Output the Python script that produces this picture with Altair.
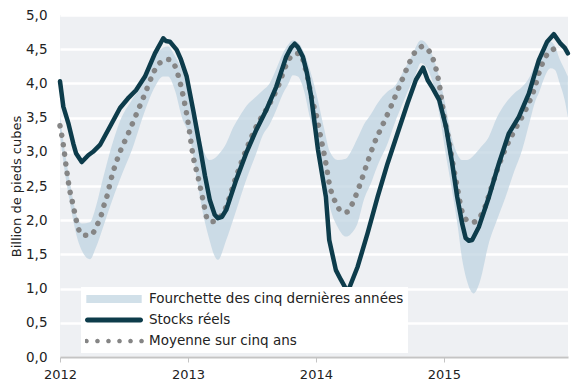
import altair as alt
import pandas as pd

# ---- data (decimal years, billions of cubic feet) ----
stock_t = [2012.0, 2012.026, 2012.065, 2012.104, 2012.125, 2012.170, 2012.221, 2012.258, 2012.3125,
           2012.391, 2012.469, 2012.531, 2012.594, 2012.664, 2012.742, 2012.807, 2012.828, 2012.859,
           2012.912, 2012.945, 2012.990, 2013.041, 2013.094, 2013.133, 2013.170, 2013.209, 2013.234,
           2013.266, 2013.299, 2013.377, 2013.455, 2013.534, 2013.612, 2013.690, 2013.768, 2013.805,
           2013.834, 2013.859, 2013.898, 2013.930, 2013.963, 2014.016, 2014.078, 2014.104, 2014.156,
           2014.195, 2014.248, 2014.326, 2014.404, 2014.482, 2014.560, 2014.638, 2014.716, 2014.781,
           2014.838, 2014.873, 2014.912, 2014.963, 2015.016, 2015.065, 2015.104, 2015.143, 2015.170,
           2015.195, 2015.221, 2015.273, 2015.352, 2015.430, 2015.508, 2015.586, 2015.664, 2015.742,
           2015.807, 2015.859, 2015.912, 2015.945, 2015.969]
stock_v = [4.03, 3.66, 3.42, 3.12, 2.98, 2.85, 2.95, 3.00, 3.10,
           3.37, 3.64, 3.78, 3.90, 4.10, 4.44, 4.66, 4.62, 4.61,
           4.49, 4.35, 4.10, 3.61, 3.07, 2.65, 2.30, 2.08, 2.03,
           2.05, 2.15, 2.59, 2.98, 3.32, 3.61, 3.95, 4.39, 4.52,
           4.58, 4.53, 4.39, 4.15, 3.81, 3.03, 2.34, 1.71, 1.27,
           1.13, 0.95, 1.32, 1.81, 2.34, 2.83, 3.27, 3.71, 4.05,
           4.23, 4.05, 3.93, 3.76, 3.37, 2.83, 2.34, 1.95, 1.74,
           1.70, 1.71, 1.90, 2.34, 2.83, 3.27, 3.51, 3.85, 4.34,
           4.61, 4.72, 4.58, 4.52, 4.44]

avg_t = [2012.0, 2012.026, 2012.052, 2012.078, 2012.099, 2012.117, 2012.135, 2012.164, 2012.203,
         2012.240, 2012.287, 2012.320, 2012.344, 2012.370, 2012.391, 2012.455, 2012.534, 2012.599,
         2012.664, 2012.729, 2012.766, 2012.807, 2012.844, 2012.873, 2012.906, 2012.9375, 2012.974,
         2013.002, 2013.041, 2013.078, 2013.117, 2013.156, 2013.195, 2013.242, 2013.287, 2013.377,
         2013.455, 2013.534, 2013.625, 2013.703, 2013.768, 2013.820, 2013.873, 2013.924, 2013.977,
         2014.0, 2014.039, 2014.078, 2014.104, 2014.156, 2014.209, 2014.242, 2014.273, 2014.338,
         2014.391, 2014.455, 2014.521, 2014.586, 2014.651, 2014.716, 2014.768, 2014.797, 2014.834,
         2014.885, 2014.9375, 2014.963, 2015.002, 2015.041, 2015.065, 2015.104, 2015.143, 2015.195,
         2015.227, 2015.260, 2015.3125, 2015.365, 2015.416, 2015.482, 2015.560, 2015.638, 2015.703,
         2015.755, 2015.795, 2015.857]
avg_v = [3.38, 3.10, 2.73, 2.42, 2.25, 2.09, 1.94, 1.80, 1.78,
         1.78, 1.92, 2.06, 2.22, 2.37, 2.54, 2.93, 3.27, 3.56,
         3.85, 4.15, 4.28, 4.32, 4.35, 4.33, 4.22, 4.02, 3.71,
         3.42, 2.93, 2.64, 2.30, 2.00, 1.98, 2.03, 2.15, 2.64,
         3.03, 3.37, 3.66, 3.95, 4.27, 4.42, 4.44, 4.17, 3.71,
         3.56, 3.20, 2.83, 2.54, 2.25, 2.12, 2.12, 2.20, 2.49,
         2.78, 3.12, 3.39, 3.66, 3.95, 4.24, 4.44, 4.50, 4.54,
         4.47, 4.22, 4.00, 3.51, 3.15, 2.88, 2.49, 2.12, 1.98,
         1.97, 2.00, 2.15, 2.44, 2.73, 3.05, 3.34, 3.61, 3.90,
         4.22, 4.39, 4.50]

band_t = [2012.0, 2012.023, 2012.078, 2012.133, 2012.172, 2012.234, 2012.281, 2012.328, 2012.391,
          2012.469, 2012.5625, 2012.664, 2012.742, 2012.805, 2012.844, 2012.898, 2012.953,
          2013.016, 2013.070, 2013.117, 2013.170, 2013.203, 2013.234, 2013.299, 2013.352, 2013.404,
          2013.461, 2013.534, 2013.586, 2013.638, 2013.6875, 2013.742, 2013.781, 2013.820, 2013.859,
          2013.906, 2013.953,
          2014.016, 2014.0625, 2014.109, 2014.170, 2014.234, 2014.273, 2014.326, 2014.375, 2014.430,
          2014.482, 2014.560, 2014.612, 2014.690, 2014.734, 2014.773, 2014.820, 2014.875, 2014.922,
          2014.969,
          2015.016, 2015.0625, 2015.109, 2015.141, 2015.182, 2015.234, 2015.281, 2015.352, 2015.414,
          2015.482, 2015.547, 2015.612, 2015.672, 2015.716, 2015.742, 2015.789, 2015.834, 2015.867,
          2015.906, 2015.945, 2015.969]
band_lo = [3.25, 2.90, 2.25, 1.75, 1.55, 1.43, 1.60, 1.85, 2.20,
           2.60, 3.03, 3.60, 3.95, 4.10, 4.10, 3.90, 3.50,
           3.20, 2.60, 2.10, 1.70, 1.50, 1.42, 1.71, 2.00, 2.30,
           2.62, 2.98, 3.25, 3.40, 3.60, 3.85, 3.98, 4.12, 4.10,
           3.90, 3.50,
           3.15, 2.70, 2.20, 1.90, 1.76, 1.80, 1.96, 2.30, 2.54,
           2.80, 3.12, 3.40, 3.76, 3.95, 4.10, 4.30, 4.20, 3.95,
           3.50,
           2.95, 2.45, 1.90, 1.45, 1.10, 0.93, 1.10, 1.67, 2.00,
           2.34, 2.70, 3.03, 3.45, 3.75, 3.86, 4.10, 4.22, 4.20,
           4.00, 3.75, 3.50]
band_hi = [3.52, 3.20, 2.55, 2.05, 1.95, 1.97, 2.20, 2.55, 3.00,
           3.45, 3.76, 4.05, 4.40, 4.52, 4.54, 4.40, 4.20,
           3.90, 3.45, 3.05, 2.88, 2.90, 2.95, 3.12, 3.35, 3.52,
           3.68, 3.81, 3.90, 4.00, 4.20, 4.44, 4.56, 4.63, 4.60,
           4.45, 4.20,
           3.75, 3.35, 3.00, 2.88, 2.90, 3.00, 3.20, 3.40, 3.55,
           3.71, 3.88, 3.95, 4.20, 4.35, 4.50, 4.63, 4.55, 4.35,
           4.05,
           3.65, 3.20, 2.95, 2.88, 2.88, 2.95, 3.05, 3.22, 3.50,
           3.71, 3.85, 3.95, 4.10, 4.29, 4.40, 4.55, 4.61, 4.55,
           4.35, 4.20, 4.10]

series_names = ["Fourchette des cinq dernières années", "Stocks réels", "Moyenne sur cinq ans"]
year_ticks = [2012, 2013, 2014, 2015]
y_ticks = [0, 0.5, 1, 1.5, 2, 2.5, 3, 3.5, 4, 4.5, 5]

# ---- styling ----
BAND = "#bcd2e0"
BAND_LEGEND = "#d1e0e9"
DARK = "#0d3c4b"
GREY = "#858585"
BG = "#eef0f3"
FONT = "DejaVu Sans"


def circle(cx, r):
    return f"M{cx - r:.3f},0a{r},{r} 0 1,0 {2 * r},0a{r},{r} 0 1,0 {-2 * r},0"


sym_band = "M-0.955,-0.138H0.955V0.138H-0.955Z"
sym_line = "M-0.914,-0.086H0.914A0.086,0.086 0 0 1 0.914,0.086H-0.914A0.086,0.086 0 0 1 -0.914,-0.086Z"
sym_dots = "".join(circle(c, 0.08) for c in [-0.95, -0.57, -0.19, 0.19, 0.57, 0.95])

stock_df = pd.DataFrame({"t": stock_t, "v": stock_v})
avg_df = pd.DataFrame({"t": avg_t, "v": avg_v})
band_df = pd.DataFrame({"t": band_t, "lo": band_lo, "hi": band_hi})
legend_df = pd.DataFrame({"serie": series_names})

x_scale = alt.Scale(domain=[2012, 2015.97], nice=False, zero=False)
y_scale = alt.Scale(domain=[0, 5], nice=False)

x_axis = alt.Axis(values=year_ticks, format="d", title=None, grid=False, labelFlush=False,
                  domainColor="#c4c4c4", domainWidth=2, tickColor="#c4c4c4", tickSize=5,
                  tickWidth=1, labelFontSize=13, labelColor="#222222", labelPadding=6,
                  labelFont=FONT)
y_axis = alt.Axis(values=y_ticks, title="Billion de pieds cubes", domain=False, ticks=False,
                  grid=True, gridColor="#ffffff", gridWidth=2.5, gridOpacity=1,
                  labelFontSize=13.5, labelColor="#222222",
                  labelPadding=13, labelFont=FONT,
                  labelExpr="replace(format(datum.value, '.1f'), '.', ',')",
                  titleFontSize=13, titleFontWeight="normal", titleColor="#222222",
                  titleFont=FONT, titlePadding=2)

band = alt.Chart(band_df).mark_area(color=BAND, opacity=0.7, interpolate="monotone").encode(
    x=alt.X("t:Q", scale=x_scale, axis=x_axis),
    y=alt.Y("lo:Q", scale=y_scale, axis=y_axis),
    y2="hi:Q",
)

avg = alt.Chart(avg_df).mark_line(color=GREY, strokeWidth=5.5, strokeCap="round",
                                  strokeDash=[0.1, 9.5], interpolate="monotone").encode(
    x=alt.X("t:Q", scale=x_scale, axis=x_axis),
    y=alt.Y("v:Q", scale=y_scale, axis=y_axis),
)

stock = alt.Chart(stock_df).mark_line(color=DARK, strokeWidth=4.5, strokeCap="round",
                                      strokeJoin="round").encode(
    x=alt.X("t:Q", scale=x_scale, axis=x_axis),
    y=alt.Y("v:Q", scale=y_scale, axis=y_axis),
)

leg = alt.Legend(orient="none", legendX=21, legendY=272, title=None, direction="vertical",
                 fillColor="#ffffff", padding=4, symbolSize=3364, symbolStrokeWidth=0,
                 symbolOpacity=1, clipHeight=16, rowPadding=5, labelFontSize=13.5,
                 labelFont=FONT, labelColor="#222222", labelOffset=6, labelLimit=400)

legend_layer = alt.Chart(legend_df).mark_point(filled=True, opacity=0).encode(
    color=alt.Color("serie:N", scale=alt.Scale(domain=series_names,
                                               range=[BAND_LEGEND, DARK, GREY]),
                    legend=leg),
    shape=alt.Shape("serie:N", scale=alt.Scale(domain=series_names,
                                               range=[sym_band, sym_line, sym_dots]),
                    legend=leg),
)

chart = alt.layer(band, avg, stock, legend_layer).properties(
    width=508, height=342,
    autosize=alt.AutoSizeParams(type="none"),
    padding={"left": 52, "top": 7, "right": 4, "bottom": 25},
    view=alt.ViewBackground(fill=BG, strokeWidth=0),
).configure(font=FONT).configure_view(fill=BG, strokeWidth=0)

chart.save("out.html", embed_options={"renderer": "svg", "actions": False})
